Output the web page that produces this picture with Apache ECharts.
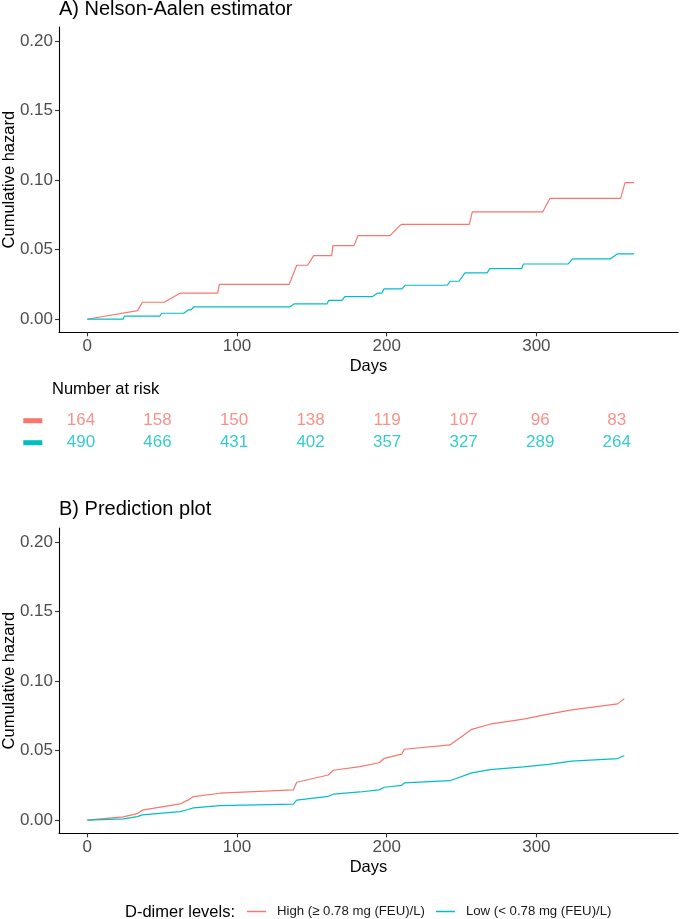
<!DOCTYPE html>
<html>
<head>
<meta charset="utf-8">
<script src="https://cdn.jsdelivr.net/npm/echarts@6.0.0/dist/echarts.min.js"></script>
<style>
html,body{margin:0;padding:0;background:#fff;}
#chart{width:685px;height:919px;}
</style>
</head>
<body>
<div id="chart"></div>
<script>
// ---- Data ----
const groupNames = ['High (≥ 0.78 mg (FEU)/L)', 'Low (< 0.78 mg (FEU)/L)'];
const xTicks = [0, 100, 200, 300];
const yTicks = [0, 0.05, 0.10, 0.15, 0.20];

// A) Nelson-Aalen estimator
const naDaysHigh = [0,33.6,36.8,51.4,61.9,87.1,88.2,134.9,139.9,147.2,151.2,163.3,164.1,178.2,180.8,202.2,209.6,255.2,257.2,304.2,309.1,356.3,359.2,365.2];
const naHazHigh  = [0,0.0062,0.0122,0.0122,0.0187,0.0187,0.0251,0.0251,0.0388,0.0388,0.0457,0.0457,0.0529,0.0529,0.0601,0.0601,0.0682,0.0682,0.0771,0.0771,0.0869,0.0869,0.0981,0.0981];
const naDaysLow  = [0,24.0,24.7,48.4,49.7,64.4,67.5,69.3,71.1,135.2,138.1,160.1,161.3,170.1,172.1,190.6,193.7,196.7,198.2,210.2,212.2,240.5,242.3,248.3,252.3,267.0,269.0,290.2,291.3,321.3,324.2,349.2,354.0,365.2];
const naHazLow   = [0,0,0.0022,0.0022,0.0043,0.0043,0.0067,0.0067,0.0088,0.0088,0.011,0.011,0.0136,0.0136,0.0163,0.0163,0.0187,0.0187,0.0218,0.0218,0.0244,0.0244,0.0273,0.0273,0.0333,0.0333,0.0364,0.0364,0.0397,0.0397,0.0433,0.0433,0.0469,0.0469];

// B) Prediction plot
const prDaysHigh = [0,24,33.4,36.7,61.9,67.5,70.8,88.6,137.6,139.9,161,164.3,182.2,194.9,198.4,210,211.8,242.3,256.8,269,291.3,308,323.6,354.3,358.7];
const prHazHigh  = [0,0.0024,0.0047,0.0072,0.0117,0.0146,0.017,0.0194,0.0218,0.0273,0.0325,0.0359,0.0385,0.0413,0.0445,0.0475,0.051,0.0541,0.0653,0.069,0.0726,0.0762,0.0793,0.0836,0.0874];
const prDaysLow  = [0,24,33.4,36.7,61.9,67.5,70.8,88.6,137.6,139.9,161,164.3,182.2,194.9,198.4,210,211.8,242.3,256.8,269,291.3,308,323.6,354.3,358.7];
const prHazLow   = [0,0.001,0.0026,0.0038,0.0062,0.0077,0.0089,0.0105,0.0115,0.0144,0.0172,0.0187,0.0203,0.0218,0.0237,0.0251,0.0268,0.0284,0.034,0.0364,0.0383,0.0402,0.0424,0.0443,0.0465];

// Number at risk table
const riskTimes = [0, 50, 100, 150, 200, 250, 300, 350];
const riskHigh  = [164, 158, 150, 138, 119, 107, 96, 83];
const riskLow   = [490, 466, 431, 402, 357, 327, 289, 264];

// ---- Styles ----
const colHigh = '#F8766D', colLow = '#00BFC4';
const FONT = '"Liberation Sans", Arial, Helvetica, sans-serif';
const zip = (xs, ys) => xs.map((x, i) => [x, ys[i]]);

function xAxisFor(gi) {
  return {
    type: 'value', gridIndex: gi, min: -18.9, max: 394.6,
    name: 'Days', nameLocation: 'middle', nameGap: 26, nameMoveOverlap: false,
    nameTextStyle: {color: '#000', fontSize: 16.5, fontFamily: FONT},
    axisLine: {show: true, onZero: false, lineStyle: {color: '#000', width: 1.1}},
    axisTick: {show: true, length: 4, customValues: xTicks, lineStyle: {color: '#333', width: 1.1}},
    axisLabel: {customValues: xTicks, margin: 6, color: '#4D4D4D', fontSize: 17, fontFamily: FONT},
    splitLine: {show: false}
  };
}
function yAxisFor(gi) {
  return {
    type: 'value', gridIndex: gi, min: -0.0094, max: 0.21,
    name: 'Cumulative hazard', nameLocation: 'middle', nameGap: 41, nameRotate: 90, nameMoveOverlap: false,
    nameTextStyle: {color: '#000', fontSize: 16.5, fontFamily: FONT},
    axisLine: {show: true, onZero: false, lineStyle: {color: '#000', width: 1.1}},
    axisTick: {show: true, length: 4, customValues: yTicks, lineStyle: {color: '#333', width: 1.1}},
    axisLabel: {customValues: yTicks, margin: 6, color: '#4D4D4D', fontSize: 17, fontFamily: FONT,
                formatter: v => v.toFixed(2)},
    splitLine: {show: false}
  };
}
function lineSeries(name, gi, data, color) {
  return {
    type: 'line', name: name, xAxisIndex: gi, yAxisIndex: gi, data: data,
    showSymbol: false, symbol: 'none', color: color,
    lineStyle: {color: color, width: 1.2}, silent: true
  };
}
function riskSeries(name, row, values, color) {
  return {
    type: 'scatter', name: name, xAxisIndex: 2, yAxisIndex: 2, silent: true,
    data: riskTimes.map((t, i) => ({value: [t, row], count: values[i]})),
    symbolSize: 2, itemStyle: {color: 'rgba(0,0,0,0)'},
    label: {show: true, position: 'inside', formatter: p => String(p.data.count),
            color: color, fontSize: 17, fontFamily: FONT}
  };
}

const chart = echarts.init(document.getElementById('chart'), null, {renderer: 'canvas'});
chart.setOption({
  animation: false,
  backgroundColor: '#fff',
  textStyle: {fontFamily: FONT},
  title: [
    {text: 'A) Nelson-Aalen estimator', left: 59, top: -0.5, textStyle: {fontSize: 20, fontWeight: 'normal', color: '#000', fontFamily: FONT}, padding: 0},
    {text: 'B) Prediction plot', left: 59, top: 499, textStyle: {fontSize: 20, fontWeight: 'normal', color: '#000', fontFamily: FONT}, padding: 0},
    {text: 'Number at risk', left: 52, top: 381, textStyle: {fontSize: 16.5, fontWeight: 'normal', color: '#000', fontFamily: FONT}, padding: 0},
    {text: 'D-dimer levels:', left: 125, top: 903.5, textStyle: {fontSize: 16.5, fontWeight: 'normal', color: '#000', fontFamily: FONT}, padding: 0}
  ],
  legend: {
    data: groupNames, left: 247, top: 905, orient: 'horizontal',
    icon: 'rect', itemWidth: 19, itemHeight: 1.5, itemGap: 11,
    textStyle: {fontSize: 13.2, color: '#1a1a1a', fontFamily: FONT, padding: [0, 0, 0, 6]},
    selectedMode: false, padding: 0
  },
  grid: [
    {left: 59, top: 27, width: 619, height: 305.3, containLabel: false, outerBoundsMode: 'none'},
    {left: 59, top: 528, width: 619, height: 305.3, containLabel: false, outerBoundsMode: 'none'},
    {left: 81, top: 409.7, width: 535.7, height: 44, containLabel: false, outerBoundsMode: 'none'}
  ],
  xAxis: [
    xAxisFor(0), xAxisFor(1),
    {type: 'value', gridIndex: 2, min: 0, max: 350, show: false}
  ],
  yAxis: [
    yAxisFor(0), yAxisFor(1),
    {type: 'category', gridIndex: 2, data: ['High', 'Low'], inverse: true,
     axisLine: {show: false}, axisTick: {show: false}, splitLine: {show: false},
     axisLabel: {margin: 38.7, formatter: v => v === 'High' ? '{h|}' : '{l|}',
       rich: {h: {width: 19, height: 5, backgroundColor: colHigh},
              l: {width: 19, height: 5, backgroundColor: colLow}}}}
  ],
  series: [
    lineSeries(groupNames[0], 0, zip(naDaysHigh, naHazHigh), colHigh),
    lineSeries(groupNames[1], 0, zip(naDaysLow, naHazLow), colLow),
    lineSeries(groupNames[0], 1, zip(prDaysHigh, prHazHigh), colHigh),
    lineSeries(groupNames[1], 1, zip(prDaysLow, prHazLow), colLow),
    riskSeries('riskHigh', 'High', riskHigh, colHigh),
    riskSeries('riskLow', 'Low', riskLow, colLow)
  ]
});
</script>
</body>
</html>
